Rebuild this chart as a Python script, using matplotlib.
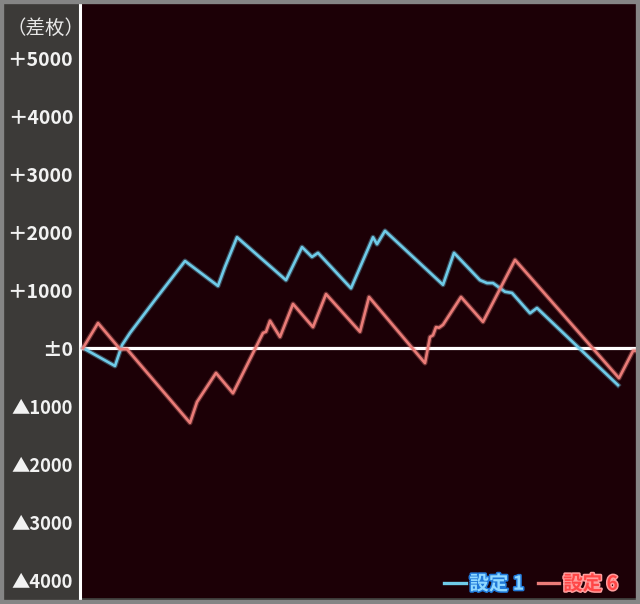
import matplotlib.pyplot as plt
import matplotlib.patheffects as pe
from matplotlib.lines import Line2D
from matplotlib.patches import Rectangle

# game count vs. difference in medals
s1_games = [0, 320, 390, 470, 720, 1020, 1350, 1420, 1540, 2030, 2190, 2290, 2350,
            2680, 2900, 2940, 3020, 3600, 3710, 3970, 4040, 4100, 4220, 4290, 4470,
            4540, 5350]
s1_diff = [0, -310, 50, 260, 830, 1500, 1070, 1400, 1910, 1170, 1740, 1570, 1640,
           1030, 1910, 1790, 2020, 1090, 1640, 1170, 1120, 1120, 970, 950, 600,
           690, -640]

s6_games = [0, 150, 370, 440, 1070, 1140, 1330, 1500, 1800, 1830, 1870, 1970, 2100,
            2300, 2430, 2770, 2860, 3420, 3470, 3500, 3530, 3560, 3600, 3780, 4000,
            4320, 5360, 5500, 5530]
s6_diff = [0, 430, -20, -20, -1290, -930, -430, -780, 260, 280, 470, 190, 760,
           360, 930, 280, 880, -260, 190, 220, 360, 350, 400, 880, 450,
           1520, -520, -50, -50]

yticks = [5000, 4000, 3000, 2000, 1000, 0, -1000, -2000, -3000, -4000]
ytick_labels = ["＋5000", "＋4000", "＋3000", "＋2000", "＋1000", "±0",
                "▲1000", "▲2000", "▲3000", "▲4000"]
names = ["設定 1", "設定 6"]

W, H = 640, 604
fig = plt.figure(figsize=(6.4, 6.04), dpi=100)
fig.patch.set_facecolor("#3c3a38")
fig.patches.append(Rectangle((0, 0), 1, 1, transform=fig.transFigure, fill=False,
                             edgecolor="#858585", linewidth=6))

ax = fig.add_axes([80 / W, 6 / H, 556 / W, 594 / H])
ax.set_facecolor("#1c0006")
ax.set_xlim(-30, 5530)
ax.set_ylim(-4310, 5931)

for side in ["top", "right", "bottom"]:
    ax.spines[side].set_visible(False)
ax.spines["left"].set_color("white")
ax.spines["left"].set_linewidth(2.2)
ax.set_xticks([])
ax.set_yticks(yticks)
ax.set_yticklabels(ytick_labels, family=["Noto Sans CJK JP", "DejaVu Sans"],
                   fontweight="bold", fontsize=14, color="#f2f2f2")
for lab in ax.get_yticklabels():
    if lab.get_text().startswith("▲"):
        lab.set_fontsize(13.2)
ax.tick_params(axis="y", length=0, pad=5)

ax.axhline(0, color="white", linewidth=2.3, zorder=2)

glow = [pe.Stroke(linewidth=3.6, alpha=0.35), pe.Normal()]
blue, red = "#6fcbe8", "#ea7c78"
ax.plot(s1_games, s1_diff, color=blue, linewidth=1.9, zorder=3, path_effects=glow)
ax.plot(s6_games, s6_diff, color=red, linewidth=1.9, zorder=3, path_effects=glow)

fig.text(45 / W, 1 - 28 / H, "（差枚）", family=["Noto Sans CJK JP"], fontsize=14,
         color="#e8e8e8", ha="center", va="center")

handles = [Line2D([], [], color=blue, linewidth=2.4),
           Line2D([], [], color=red, linewidth=2.4)]
leg = ax.legend(handles, names, loc="lower right", ncol=2, frameon=False,
                handlelength=1.1, handletextpad=0.2, columnspacing=0.7,
                borderaxespad=0.0, bbox_to_anchor=(0.982, -0.006),
                prop={"family": ["Noto Sans CJK JP"], "weight": "bold", "size": 14})
text_styles = [("#8fd8ff", "#1f78d8"), ("#ff4646", "#ff9d9d")]
for t, (fill, edge) in zip(leg.get_texts(), text_styles):
    t.set_color(fill)
    t.set_path_effects([pe.withStroke(linewidth=2.2, foreground=edge)])

fig.savefig("out.png", dpi=100, facecolor=fig.get_facecolor())
